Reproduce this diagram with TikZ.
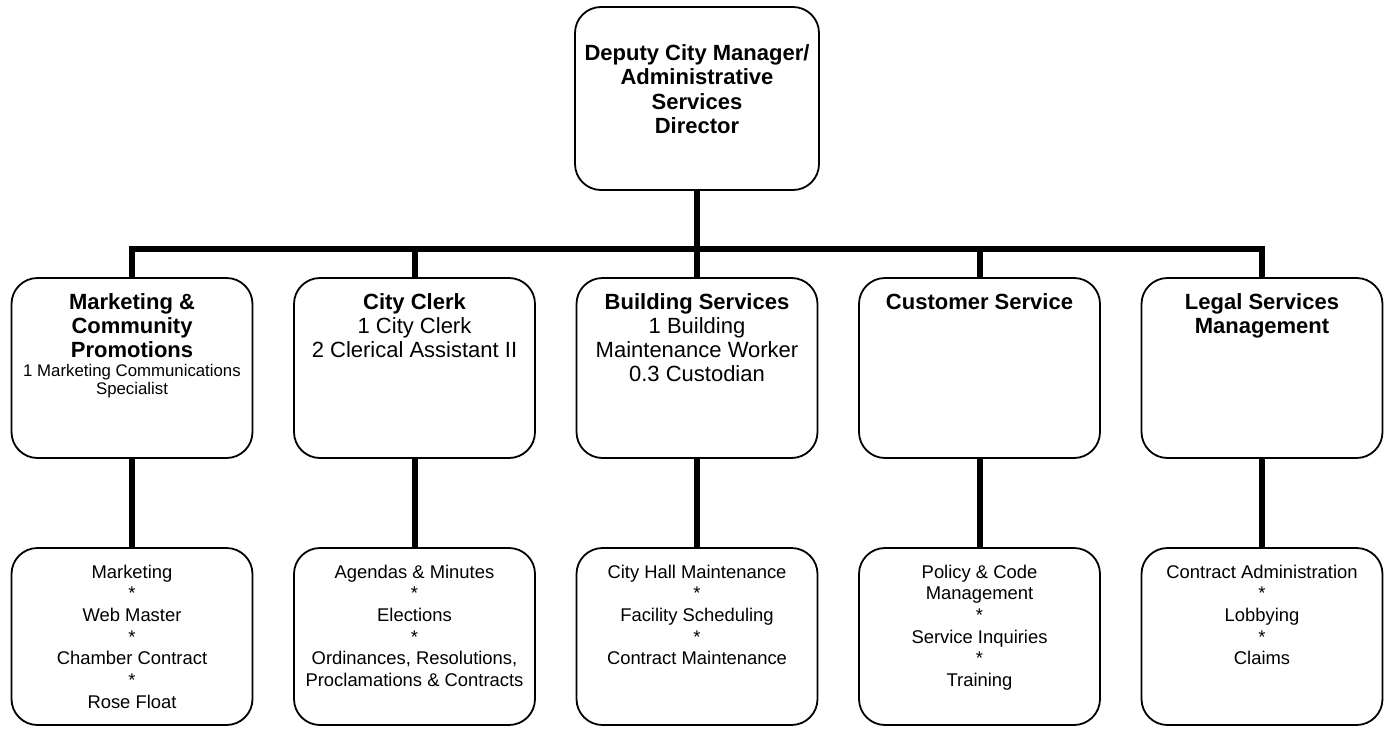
\documentclass[tikz,border=0pt]{standalone}
\usepackage{fontspec}
\setmainfont{Liberation Sans}
% text block at the top of a box: height, then lines
\newcommand{\boxtxt}[2]{\parbox[t][#1][t]{232pt}{\centering\strut#2}}
% asterisk line between duties
\newcommand{\sep}{\\{*}\\}

\begin{document}
\begin{tikzpicture}
[x=1pt,y=-1pt,
 box/.style={draw,line width=1.8pt,rounded corners=26pt,
   minimum width=241pt,inner xsep=4.5pt,align=center},
 head/.style={box,minimum height=180pt,inner ysep=14pt,
   font=\fontsize{22}{24.3}\selectfont},
 task/.style={box,minimum height=177pt,inner ysep=15pt,
   font=\fontsize{18.4}{21.7}\selectfont},
 conn/.style={line width=6pt}]

  \useasboundingbox (0,0) rectangle (1391,728);

  \node[box,minimum width=244pt,minimum height=183pt,inner ysep=36pt,
        font=\fontsize{22}{24.5}\selectfont\bfseries] (dir) at (697,98.5)
    {\boxtxt{111pt}{Deputy City Manager/\\Administrative\\Services\\Director}};

  % divisions
  \node[head] (mkt) at (132,368)
    {\boxtxt{152pt}{\bfseries Marketing \&\\Community\\Promotions\par
     \fontsize{16.8}{18.5}\selectfont\mdseries 1 Marketing Communications\\Specialist}};
  \node[head] (clerk) at (414.5,368)
    {\boxtxt{152pt}{\textbf{City Clerk}\\1 City Clerk\\2 Clerical Assistant II}};
  \node[head] (bldg) at (697,368)
    {\boxtxt{152pt}{\textbf{Building Services}\\1 Building\\Maintenance Worker\\0.3 Custodian}};
  \node[head] (cust) at (979.5,368)
    {\boxtxt{152pt}{\textbf{Customer Service}}};
  \node[head] (legal) at (1262,368)
    {\boxtxt{152pt}{\bfseries Legal Services\\Management}};

  % duties
  \node[task] (mkt2) at (132,636.5)
    {\boxtxt{147pt}{Marketing\sep Web Master\sep Chamber Contract\sep Rose Float}};
  \node[task] (clerk2) at (414.5,636.5)
    {\boxtxt{147pt}{Agendas \& Minutes\sep Elections\sep Ordinances, Resolutions,\\Proclamations \& Contracts}};
  \node[task] (bldg2) at (697,636.5)
    {\boxtxt{147pt}{City Hall Maintenance\sep Facility Scheduling\sep Contract Maintenance}};
  \node[task] (cust2) at (979.5,636.5)
    {\boxtxt{147pt}{Policy \& Code\\Management\sep Service Inquiries\sep Training}};
  \node[task] (legal2) at (1262,636.5)
    {\boxtxt{147pt}{Contract Administration\sep Lobbying\sep Claims}};

  \coordinate (bus) at (697,248.5);
  \draw[conn] (dir.south) -- (bus);
  \draw[conn] (mkt.north) |- (legal.north |- bus) -- (legal.north);
  \foreach \n in {clerk,bldg,cust}
    \draw[conn] (\n.north) -- (\n.north |- bus);
  \foreach \n in {mkt,clerk,bldg,cust,legal}
    \draw[conn] (\n.south) -- (\n2.north);
\end{tikzpicture}
\end{document}
